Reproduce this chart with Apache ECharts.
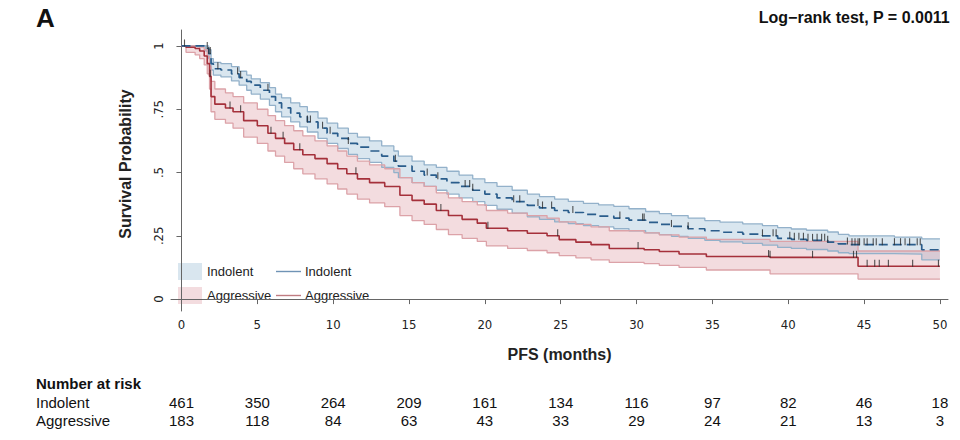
<!DOCTYPE html>
<html><head><meta charset="utf-8">
<script src="https://cdn.jsdelivr.net/npm/echarts@6/dist/echarts.min.js"></script>
<style>html,body{margin:0;padding:0;background:#fff}#c{width:960px;height:440px}</style>
</head><body><div id="c"></div>
<script>
// ---- Kaplan-Meier estimates ----
const indTime  = [0, 1.6, 1.8, 1.95, 2.1, 2.6, 3.3, 3.8, 4.3, 4.6, 5.2, 5.8, 6.2, 6.6, 7.2, 7.8, 8.3, 9.0, 9.6, 10.3, 11.0, 11.6, 12.4, 13.2, 14.0, 14.3, 15.2, 16.0, 16.8, 17.5, 18.3, 19.2, 20.0, 20.8, 21.8, 22.8, 23.6, 24.6, 25.5, 26.5, 27.5, 28.5, 29.5, 30.6, 31.5, 32.3, 33.4, 34.5, 35.5, 37.0, 38.3, 39.3, 40.2, 41.2, 42.6, 43.3, 44.0, 47.0, 48.8, 50];
const indSurv  = [1, 0.99, 0.97, 0.93, 0.91, 0.905, 0.89, 0.875, 0.86, 0.845, 0.825, 0.80, 0.775, 0.755, 0.735, 0.72, 0.70, 0.675, 0.655, 0.635, 0.615, 0.60, 0.585, 0.565, 0.545, 0.525, 0.505, 0.49, 0.475, 0.46, 0.445, 0.43, 0.415, 0.40, 0.385, 0.37, 0.36, 0.35, 0.342, 0.335, 0.328, 0.32, 0.312, 0.303, 0.295, 0.287, 0.278, 0.27, 0.264, 0.257, 0.25, 0.24, 0.236, 0.232, 0.225, 0.218, 0.215, 0.215, 0.195, 0.195];
const indLower = [1, 0.98, 0.95, 0.905, 0.885, 0.878, 0.862, 0.845, 0.825, 0.81, 0.79, 0.765, 0.74, 0.72, 0.70, 0.68, 0.66, 0.635, 0.615, 0.595, 0.572, 0.555, 0.54, 0.52, 0.50, 0.48, 0.46, 0.445, 0.43, 0.415, 0.40, 0.385, 0.37, 0.355, 0.34, 0.325, 0.315, 0.305, 0.298, 0.29, 0.285, 0.278, 0.27, 0.262, 0.255, 0.248, 0.24, 0.232, 0.226, 0.22, 0.213, 0.204, 0.20, 0.196, 0.19, 0.183, 0.18, 0.178, 0.155, 0.155];
const indUpper = [1, 1.0, 0.985, 0.95, 0.935, 0.93, 0.918, 0.90, 0.885, 0.87, 0.855, 0.835, 0.81, 0.795, 0.775, 0.76, 0.74, 0.715, 0.695, 0.675, 0.655, 0.64, 0.625, 0.605, 0.585, 0.565, 0.545, 0.53, 0.52, 0.505, 0.49, 0.475, 0.46, 0.445, 0.43, 0.415, 0.405, 0.395, 0.386, 0.378, 0.372, 0.366, 0.357, 0.346, 0.338, 0.33, 0.32, 0.31, 0.304, 0.297, 0.29, 0.282, 0.277, 0.272, 0.265, 0.256, 0.25, 0.245, 0.238, 0.238];

const aggTime  = [0, 0.3, 0.9, 1.2, 1.5, 1.7, 1.85, 1.95, 2.2, 2.9, 3.4, 4.1, 5.0, 5.7, 6.2, 6.8, 7.4, 8.0, 8.8, 9.6, 10.3, 10.9, 11.6, 12.4, 13.4, 14.4, 15.2, 16.0, 16.8, 17.6, 18.5, 19.5, 20.1, 21.5, 22.8, 24.1, 24.9, 26.0, 27.0, 28.2, 30.5, 31.5, 32.8, 34.6, 38.8, 44.6, 50];
const aggSurv  = [1, 0.995, 0.99, 0.98, 0.96, 0.93, 0.88, 0.80, 0.77, 0.755, 0.74, 0.705, 0.685, 0.655, 0.635, 0.615, 0.59, 0.57, 0.555, 0.535, 0.515, 0.495, 0.475, 0.46, 0.445, 0.41, 0.39, 0.375, 0.35, 0.33, 0.315, 0.30, 0.28, 0.27, 0.26, 0.25, 0.235, 0.225, 0.215, 0.20, 0.195, 0.188, 0.178, 0.168, 0.165, 0.13, 0.13];
const aggLower = [1, 0.975, 0.965, 0.95, 0.925, 0.89, 0.83, 0.74, 0.71, 0.695, 0.675, 0.64, 0.615, 0.585, 0.565, 0.54, 0.515, 0.495, 0.475, 0.455, 0.435, 0.415, 0.395, 0.38, 0.365, 0.33, 0.31, 0.295, 0.275, 0.255, 0.24, 0.228, 0.21, 0.20, 0.192, 0.183, 0.172, 0.163, 0.155, 0.145, 0.14, 0.133, 0.125, 0.115, 0.10, 0.079, 0.079];
const aggUpper = [1, 1.0, 1.0, 0.995, 0.985, 0.96, 0.92, 0.86, 0.83, 0.815, 0.80, 0.775, 0.75, 0.725, 0.705, 0.685, 0.665, 0.645, 0.625, 0.605, 0.585, 0.565, 0.545, 0.53, 0.515, 0.48, 0.46, 0.445, 0.42, 0.40, 0.385, 0.372, 0.35, 0.34, 0.33, 0.32, 0.305, 0.295, 0.285, 0.27, 0.262, 0.254, 0.245, 0.236, 0.228, 0.19, 0.19];

// censoring times (tick marks)
const indCensor = [0.2, 1.7, 1.8, 1.9, 2.4, 3.7, 3.9, 5.7, 8.3, 8.5, 9.3, 9.8, 11.0, 14.1, 16.2, 16.9, 18.7, 19.0, 19.2, 21.9, 22.3, 23.5, 23.8, 24.4, 25.8, 28.9, 30.4, 30.5, 32.3, 33.4, 38.3, 39.0, 39.2, 40.1, 40.4, 40.7, 41.0, 41.3, 41.6, 41.9, 42.2, 42.4, 42.6, 43.9, 44.2, 44.4, 44.6, 44.7, 45.0, 45.2, 45.6, 45.8, 46.2, 47.0, 47.4, 47.7, 48.0, 48.5, 48.7];
const aggCensor = [1.9, 3.2, 3.9, 5.9, 6.7, 7.8, 11.5, 17.1, 20.2, 24.8, 30.1, 38.7, 38.8, 41.6, 44.3, 44.5, 45.2, 45.7, 46.0, 46.6, 48.2, 49.9];

// axes
const xTicks = [0, 5, 10, 15, 20, 25, 30, 35, 40, 45, 50];
const yTicks = [0, 0.25, 0.5, 0.75, 1];
const yTickLabels = ['0', '.25', '.5', '.75', '1'];

// number at risk
const riskTimes = [0, 5, 10, 15, 20, 25, 30, 35, 40, 45, 50];
const riskIndolent = [461, 350, 264, 209, 161, 134, 116, 97, 82, 46, 18];
const riskAggressive = [183, 118, 84, 63, 43, 33, 29, 24, 21, 13, 3];

const groupNames = ['Indolent', 'Aggressive'];

// ---- styles ----
const NARROW = "'Liberation Sans Narrow','DejaVu Sans Condensed','Liberation Sans',Arial,sans-serif";
const SANS = "'Liberation Sans',Arial,Helvetica,sans-serif";
const C = {
  indLine: '#2a5d8c', indCI: '#93b1ca', indFill: 'rgba(150,185,212,0.36)', indLeg: '#6f93b5',
  aggLine: '#a5303b', aggCI: '#dca2a8', aggFill: 'rgba(215,140,150,0.30)', aggLeg: '#c07c82',
  axis: '#666', text: '#222'
};

function zip(t, v) { return t.map((x, i) => [x, v[i]]); }
function stepAt(t, times, vals) {
  let v = vals[0];
  for (let i = 0; i < times.length; i++) { if (times[i] <= t) v = vals[i]; else break; }
  return v;
}
function band(times, lo, hi, fill, z) {
  return {
    type: 'custom', coordinateSystem: 'cartesian2d', silent: true, z: z,
    data: [[times[0], lo[0]]], encode: { x: 0, y: 1 },
    renderItem: function (params, api) {
      const pts = [];
      const n = times.length;
      for (let i = 0; i < n; i++) {
        const nx = i < n - 1 ? times[i + 1] : times[i];
        pts.push(api.coord([times[i], hi[i]]));
        pts.push(api.coord([nx, hi[i]]));
      }
      for (let i = n - 1; i >= 0; i--) {
        const nx = i < n - 1 ? times[i + 1] : times[i];
        pts.push(api.coord([nx, lo[i]]));
        pts.push(api.coord([times[i], lo[i]]));
      }
      return { type: 'polygon', shape: { points: pts }, style: { fill: fill } };
    }
  };
}
function stepLine(name, times, vals, color, width, type, z) {
  return {
    name: name, type: 'line', step: 'end', symbol: 'none', silent: true, z: z,
    data: zip(times, vals),
    lineStyle: { color: color, width: width, type: type }
  };
}
function censor(times, stimes, svals, z) {
  return {
    type: 'scatter', silent: true, z: z,
    data: times.map(t => [t, stepAt(t, stimes, svals)]),
    symbol: 'rect', symbolSize: [1.1, 7], symbolOffset: [0, -3],
    itemStyle: { color: '#2a2a2a' }
  };
}

const chart = echarts.init(document.getElementById('c'), null, { renderer: 'svg' });
chart.setOption({
  animation: false,
  backgroundColor: '#fff',
  grid: { left: 171, right: 12, top: 30, bottom: 129, containLabel: false },
  xAxis: {
    type: 'value', min: -0.69, max: 50.53,
    name: 'PFS (months)', nameLocation: 'middle', nameGap: 35,
    nameTextStyle: { fontFamily: SANS, fontWeight: 'bold', fontSize: 16, color: C.text },
    axisLine: { lineStyle: { color: C.axis, width: 1 } },
    axisTick: { show: true, length: 5, customValues: xTicks, lineStyle: { color: C.axis } },
    axisLabel: { customValues: xTicks, fontFamily: NARROW, fontSize: 13, color: C.text, margin: 7 },
    splitLine: { show: false }
  },
  yAxis: {
    type: 'value', min: -0.047, max: 1.063,
    axisLine: { show: true, lineStyle: { color: C.axis, width: 1 } },
    axisTick: { show: true, length: 5, customValues: yTicks, lineStyle: { color: C.axis } },
    axisLabel: {
      customValues: yTicks, rotate: 90, fontFamily: NARROW, fontSize: 13, color: C.text, margin: 6,
      formatter: v => { const i = yTicks.findIndex(y => Math.abs(y - v) < 1e-6); return i >= 0 ? yTickLabels[i] : ''; }
    },
    splitLine: { show: false }
  },
  series: [
    band(indTime, indLower, indUpper, C.indFill, 1),
    band(aggTime, aggLower, aggUpper, C.aggFill, 2),
    stepLine('indLo', indTime, indLower, C.indCI, 1.3, 'solid', 3),
    stepLine('indHi', indTime, indUpper, C.indCI, 1.3, 'solid', 3),
    stepLine('aggLo', aggTime, aggLower, C.aggCI, 1.3, 'solid', 3),
    stepLine('aggHi', aggTime, aggUpper, C.aggCI, 1.3, 'solid', 3),
    stepLine(groupNames[1], aggTime, aggSurv, C.aggLine, 1.6, 'solid', 5),
    stepLine(groupNames[0], indTime, indSurv, C.indLine, 1.7, [9, 5], 5),
    censor(indCensor, indTime, indSurv, 6),
    censor(aggCensor, aggTime, aggSurv, 6)
  ]
});

// ---- overlay texts: title, annotation, y title, legend, risk table ----
const g = [];
g.push({ type: 'text', left: 36, top: 5, style: { text: 'A', font: "bold 26px " + SANS, fill: '#111' } });
g.push({ type: 'text', right: 10, top: 9, style: { text: 'Log\u2212rank test, P = 0.0011', font: "bold 16px " + SANS, fill: '#111' } });
g.push({ type: 'text', x: 125, y: 164, rotation: Math.PI / 2, style: { text: 'Survival Probability', font: "bold 16px " + SANS, fill: C.text, align: 'center', verticalAlign: 'middle' } });
// legend
const legRows = [
  { y: 271.5, fill: C.indFill, line: C.indLeg, name: groupNames[0] },
  { y: 295.5, fill: C.aggFill, line: C.aggLeg, name: groupNames[1] }
];
legRows.forEach(r => {
  g.push({ type: 'rect', shape: { x: 178, y: r.y - 8.5, width: 24, height: 17 }, style: { fill: r.fill } });
  g.push({ type: 'text', x: 207, y: r.y, style: { text: r.name, font: "13px " + SANS, fill: C.text, verticalAlign: 'middle' } });
  g.push({ type: 'line', shape: { x1: 276, y1: r.y, x2: 301, y2: r.y }, style: { stroke: r.line, lineWidth: 1.4 } });
  g.push({ type: 'text', x: 305, y: r.y, style: { text: r.name, font: "13px " + SANS, fill: C.text, verticalAlign: 'middle' } });
});
// risk table
g.push({ type: 'text', x: 36, y: 383, style: { text: 'Number at risk', font: "bold 15px " + SANS, fill: '#111', verticalAlign: 'middle' } });
g.push({ type: 'text', x: 36, y: 402, style: { text: groupNames[0], font: "15px " + SANS, fill: '#111', verticalAlign: 'middle' } });
g.push({ type: 'text', x: 36, y: 420, style: { text: groupNames[1], font: "15px " + SANS, fill: '#111', verticalAlign: 'middle' } });
riskTimes.forEach((t, i) => {
  const px = chart.convertToPixel({ xAxisIndex: 0 }, t);
  g.push({ type: 'text', x: px, y: 402, style: { text: String(riskIndolent[i]), font: "15px " + SANS, fill: '#111', align: 'center', verticalAlign: 'middle' } });
  g.push({ type: 'text', x: px, y: 420, style: { text: String(riskAggressive[i]), font: "15px " + SANS, fill: '#111', align: 'center', verticalAlign: 'middle' } });
});
chart.setOption({ graphic: g });
</script></body></html>
